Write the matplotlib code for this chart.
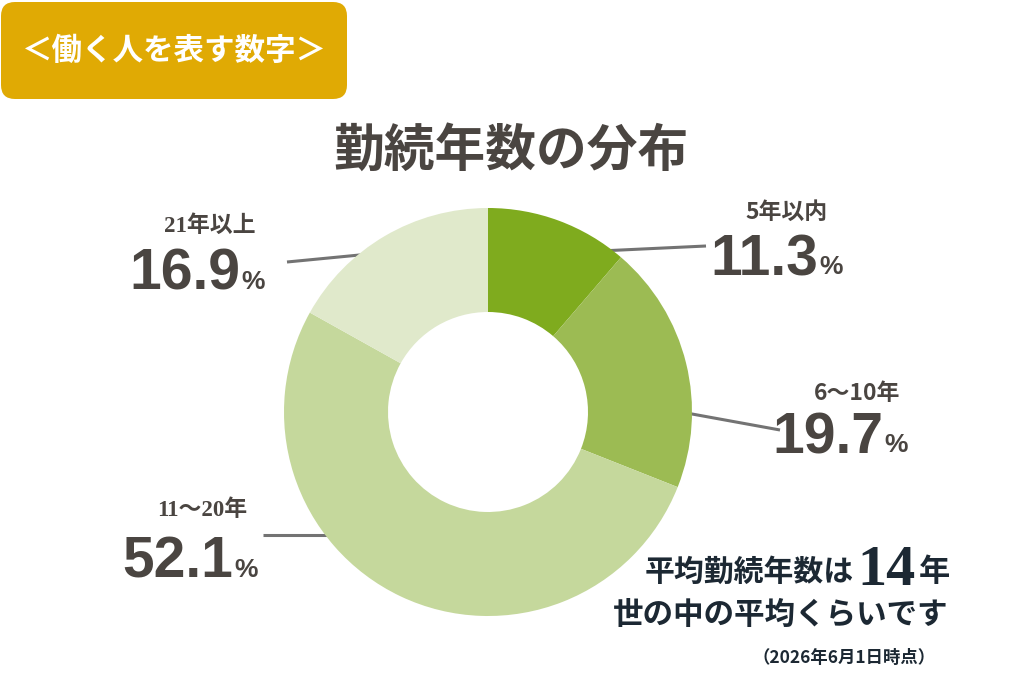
import matplotlib
matplotlib.use('Agg')
import matplotlib.pyplot as plt
from matplotlib.patches import FancyBboxPatch
from matplotlib import font_manager

plt.rcParams['font.family'] = ['Noto Sans CJK JP', 'DejaVu Sans']

# data
labels = ['5年以内', '6〜10年', '11〜20年', '21年以上']
values = [11.3, 19.7, 52.1, 16.9]
colors = ['#7fab1e', '#9cbb53', '#c5d89c', '#e0e9cb']
title = '勤続年数の分布'
badge = '＜働く人を表す数字＞'

names = {f.name for f in font_manager.fontManager.ttflist}
numfont = 'Liberation Sans Narrow' if 'Liberation Sans Narrow' in names else 'Liberation Sans'

txt = '#4a4541'
navy = '#1c2833'

fig = plt.figure(figsize=(10.24, 6.83), dpi=100)
ax = fig.add_axes([0, 0, 1, 1])

cx, cy, R = 488, 412, 204

# leader lines (under the donut)
leaders = [((600, 251), (706, 246)),
           ((670, 410), (780, 430)),
           ((340, 535), (263, 535)),
           ((370, 254), (287, 262))]
for (x0, y0), (x1, y1) in leaders:
    ax.plot([x0, x1], [y0, y1], color='#737373', lw=2.2, zorder=1, solid_capstyle='butt')

ax.pie(values, colors=colors, startangle=-90, counterclock=True,
       center=(cx, cy), radius=R, frame=True,
       wedgeprops=dict(width=104, edgecolor='none'))

ax.set_xlim(0, 1024)
ax.set_ylim(683, 0)
ax.set_aspect('equal')
ax.axis('off')

# badge
ax.add_patch(FancyBboxPatch((1, 2), 346, 97, boxstyle='round,pad=0,rounding_size=14',
                            fc='#e0aa04', ec='none', zorder=3))
ax.text(174, 51, badge, color='white', fontsize=22, fontweight='bold',
        ha='center', va='center', zorder=4)

ax.text(511, 151, title, color=txt, fontsize=36.5, fontweight='bold',
        ha='center', va='center')

# slice labels: (category center x, y), number right edge x, baseline y
spots = [((787, 212), 818, 275),
         ((857, 393), 883, 453),
         ((202, 510), 233, 578),
         ((210, 226), 240, 290)]
serif_digits = [False, False, True, True]
for lab, v, ((lx, ly), nx, ny), sd in zip(labels, values, spots, serif_digits):
    fam = ['Liberation Serif', 'Noto Sans CJK JP'] if sd else ['Noto Sans CJK JP', 'DejaVu Sans']
    ax.text(lx, ly, lab, color=txt, fontsize=16.5, fontweight='bold',
            ha='center', va='center', family=fam)
    ax.text(nx, ny, f'{v:.1f}', color=txt, fontsize=41, fontweight='bold',
            ha='right', va='baseline', family=numfont)
    ax.text(nx + 1, ny - 1, '%', color=txt, fontsize=19, fontweight='bold',
            ha='left', va='baseline', family=numfont)

# summary text
ax.text(854, 572, '平均勤続年数は', color=navy, fontsize=21.5, fontweight='bold',
        ha='right', va='center')
ax.text(886, 585, '14', color=navy, fontsize=42, fontweight='bold',
        ha='center', va='baseline', family='Liberation Serif')
ax.text(950, 572, '年', color=navy, fontsize=22.5, fontweight='bold',
        ha='right', va='center')
ax.text(948, 615, '世の中の平均くらいです', color=navy, fontsize=22, fontweight='bold',
        ha='right', va='center')
ax.text(936, 658, '（2026年6月1日時点）', color=navy, fontsize=12.5, fontweight='bold',
        ha='right', va='center')

fig.savefig('out.png', dpi=100)
